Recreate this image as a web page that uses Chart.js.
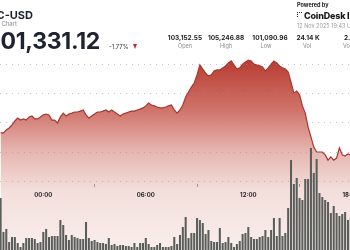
<!DOCTYPE html>
<html lang="en">
<head>
<meta charset="UTF-8">
<title>BTC-USD 24 Hour Chart</title>
<script src="https://cdn.jsdelivr.net/npm/chart.js"></script>
<style>
  html, body { margin: 0; padding: 0; background: #fff; }
  body { width: 350px; height: 250px; overflow: hidden; position: relative; font-family: Inter, "Open Sans", sans-serif; color: #1f2330; }
  #chartBox { position: absolute; left: 0; top: 0; width: 350px; height: 250px; }
  .t { position: absolute; white-space: nowrap; line-height: 1; }
  .c { transform: translateX(-50%); text-align: center; }
  .val { font-size: 6.5px; font-weight: 700; color: #222; top: 35px; }
  .lab { font-size: 5.5px; color: #8a8a8a; top: 44px; }
</style>
</head>
<body>
<div id="chartBox"><canvas id="btcChart" width="350" height="250"></canvas></div>

<div class="t" style="right:317px; top:10px; font-size:11px; font-weight:700;">BTC-USD</div>
<div class="t" style="right:333px; top:21px; font-size:6px; color:#8a8a8a;">24 Hour Chart</div>
<div class="t" style="right:250px; top:30px; font-size:23px; font-weight:700; letter-spacing:-0.3px;">101,331.12</div>
<div class="t" style="left:109px; top:44px; font-size:6px; color:#333;">-1.77%</div>
<div class="t" style="left:133px; top:44px; width:0; height:0; border-left:2.5px solid transparent; border-right:2.5px solid transparent; border-top:5px solid #c0312b;"></div>

<div class="t c val" style="left:185px;">103,152.55</div>
<div class="t c lab" style="left:185px;">Open</div>
<div class="t c val" style="left:226px;">105,246.88</div>
<div class="t c lab" style="left:226px;">High</div>
<div class="t c val" style="left:270px;">101,090.96</div>
<div class="t c lab" style="left:266px;">Low</div>
<div class="t c val" style="left:308px;">24.14 K</div>
<div class="t c lab" style="left:307px;">Vol</div>
<div class="t val" style="left:344px;">2.47 B</div>
<div class="t lab" style="left:343px;">Vol USD</div>

<div class="t" style="left:297px; top:3px; font-size:5.5px; font-weight:700; color:#222;">Powered by</div>
<div class="t" style="left:297px; top:12px; width:4px; height:4px; border-left:1.5px dotted #222; border-top:1.5px dotted #222;"></div>
<div class="t" style="left:304px; top:11px; font-size:9px; font-weight:800; color:#1a1a1a; letter-spacing:-0.2px;">CoinDesk Indices</div>
<div class="t" style="left:297px; top:24px; font-size:5.5px; color:#9a9a9a;">12 Nov 2025 19:43 UTC</div>

<script>
// 10-minute steps, hours relative to 00:00 (negative = previous day)
const startHour = -2.5;
const stepHours = 1 / 6;

const price = [
  102660, 102660, 102760, 102830, 102930, 103070, 103170, 103100, 103140, 103100,
  103210, 103240, 103140, 103140, 103210, 103280, 103310, 103280, 103100, 103100,
  103000, 103210, 103340, 103240, 103310, 103340, 103380, 103380, 103410, 103450,
  103280, 103170, 103240, 103310, 103380, 103380, 103410, 103450, 103380, 103450,
  103380, 103310, 103240, 103310, 103340, 103380, 103410, 103410, 103450, 103480,
  103520, 103590, 103690, 103620, 103590, 103550, 103520, 103520, 103550, 103590,
  103620, 103450, 103340, 103450, 103620, 103900, 104070, 104240, 104380, 104660,
  105000, 104860, 104720, 104620, 104660, 104790, 104830, 104830, 104900, 104970,
  105070, 105140, 105000, 104860, 104900, 105030, 105100, 105170, 105140, 105030,
  105000, 104970, 104930, 104790, 104900, 105030, 105140, 105070, 104970, 104900,
  104860, 104760, 104410, 104030, 104100, 103970, 103590, 103340, 102860, 102520,
  102170, 102000, 102000, 102000, 101900, 101720, 101830, 101720, 101790, 102140,
  101900, 101860, 101930, 101900
];

const volume = [
  520, 180, 210, 80, 130, 130, 70, 30, 70, 120,
  120, 120, 110, 70, 80, 180, 210, 130, 140, 140,
  140, 300, 250, 150, 100, 150, 130, 120, 110, 110,
  280, 120, 90, 100, 80, 70, 70, 60, 120, 50,
  60, 40, 50, 50, 40, 40, 30, 70, 30, 70,
  70, 120, 60, 30, 30, 50, 70, 30, 30, 30,
  40, 130, 60, 150, 230, 330, 120, 170, 170, 320,
  300, 270, 160, 200, 90, 80, 80, 220, 70, 80,
  130, 70, 30, 60, 90, 160, 170, 230, 130, 110,
  110, 130, 140, 200, 130, 200, 320, 140, 320, 140,
  170, 420, 900, 660, 720, 520, 500, 710, 710, 1020,
  770, 910, 570, 530, 500, 480, 370, 440, 370, 340,
  360, 380, 300, 320
];

const hourTicks = [0, 6, 12, 18];
const priceGrid = [101000, 102000, 103000, 104000, 105000];

const times = price.map((p, i) => startHour + i * stepHours);

function areaFill(context) {
  const chart = context.chart;
  const area = chart.chartArea;
  if (!area) return 'rgba(210,120,110,0.5)';
  const g = chart.ctx.createLinearGradient(0, 58, 0, 250);
  g.addColorStop(0, 'rgb(183,58,48)');
  g.addColorStop(0.27, 'rgb(208,115,105)');
  g.addColorStop(0.48, 'rgb(230,180,175)');
  g.addColorStop(0.69, 'rgb(243,222,219)');
  g.addColorStop(1, 'rgb(249,238,236)');
  return g;
}

const ctx = document.getElementById('btcChart').getContext('2d');
const btcChart = new Chart(ctx, {
  type: 'line',
  data: {
    datasets: [{
      type: 'bar',
      label: 'Volume',
      data: times.map((t, i) => ({ x: t, y: volume[i] })),
      yAxisID: 'vol',
      backgroundColor: '#5a5e5a',
      borderWidth: 0,
      barPercentage: 1,
      categoryPercentage: 0.72,
      order: 0
    }, {
      label: 'Price',
      data: times.map((t, i) => ({ x: t, y: price[i] })),
      yAxisID: 'y',
      borderColor: '#a8362e',
      borderWidth: 1.2,
      pointRadius: 0,
      tension: 0,
      fill: 'start',
      backgroundColor: areaFill,
      order: 1
    }]
  },
  options: {
    responsive: false,
    animation: false,
    events: [],
    layout: { padding: 0, autoPadding: false },
    plugins: { legend: { display: false }, tooltip: { enabled: false } },
    scales: {
      x: {
        type: 'linear',
        min: -2.535,
        max: 17.953,
        offset: false,
        position: { y: 100900 },
        afterBuildTicks: s => { s.ticks = hourTicks.map(v => ({ value: v })); },
        // labels run off the right edge like the cropped original, so no side padding
        afterFit: s => { s.paddingLeft = 0; s.paddingRight = 0; },
        grid: { drawOnChartArea: false, drawTicks: true, tickLength: 3, color: '#9a9a9a', z: 1 },
        border: { display: false },
        ticks: {
          z: 1,
          padding: 5,
          maxRotation: 0,
          color: '#2a2a2a',
          font: { family: 'Inter', size: 6, weight: 'bold' },
          callback: v => String(((v % 24) + 24) % 24).padStart(2, '0') + ':00'
        }
      },
      y: {
        position: 'left',
        min: 98621,
        max: 107241,
        afterBuildTicks: s => { s.ticks = priceGrid.map(v => ({ value: v })); },
        afterFit: s => { s.width = 0; },
        ticks: { display: false },
        grid: { color: 'rgba(150,150,150,0.55)', drawTicks: false, z: 1 },
        border: { display: false, dash: [1, 5] }
      },
      vol: {
        position: 'right',
        display: false,
        min: 0,
        max: 2500
      }
    }
  }
});
</script>
</body>
</html>
